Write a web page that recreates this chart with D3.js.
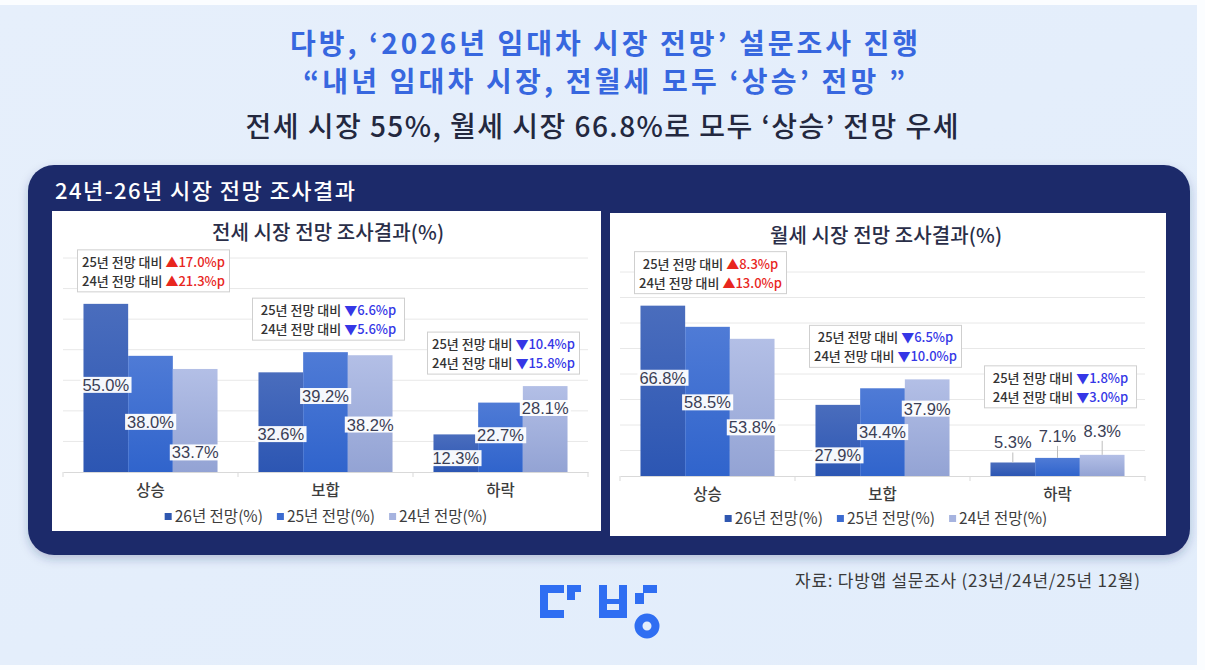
<!DOCTYPE html>
<html>
<head>
<meta charset="utf-8">
<script src="https://cdn.jsdelivr.net/npm/d3@7/dist/d3.min.js"></script>
<style>
  body { margin: 0; background: #fff; }
  svg { display: block; font-family: "Noto Sans CJK KR", "Noto Sans", sans-serif; }
</style>
</head>
<body>
<svg id="chart" width="1205" height="670"></svg>
<script>
// categories and series
const categories = ["상승", "보합", "하락"]
const seriesNames = ["26년 전망(%)", "25년 전망(%)", "24년 전망(%)"]

// 전세 (jeonse) values per series, in category order
const jeonse26 = [55.0, 32.6, 12.3]
const jeonse25 = [38.0, 39.2, 22.7]
const jeonse24 = [33.7, 38.2, 28.1]

// 월세 (wolse) values
const wolse26 = [66.8, 27.9, 5.3]
const wolse25 = [58.5, 34.4, 7.1]
const wolse24 = [53.8, 37.9, 8.3]

// y ticks
const jeonseTicks = [0, 10, 20, 30, 40, 50, 60, 70]
const wolseTicks = [0, 10, 20, 30, 40, 50, 60, 70, 80]

const W = 1205, H = 670
const barColors = [["#4a6dbd", "#2c56b3"], ["#4f7bd6", "#3064cc"], ["#b3bfe6", "#93a3d4"]]
const legendColors = ["#2f57b0", "#3c6bd0", "#a6b3df"]
const upColor = "#e8261e"
const downColor = "#3537e6"
const fmt = d3.format(".1f")

const svg = d3.select("#chart")
const defs = svg.append("defs")

// background
const bg = defs.append("linearGradient").attr("id", "bg").attr("x1", 0).attr("y1", 0).attr("x2", 1).attr("y2", 1)
bg.append("stop").attr("offset", 0).attr("stop-color", "#e6effb")
bg.append("stop").attr("offset", 1).attr("stop-color", "#e2edfb")
svg.append("rect").attr("width", W).attr("height", H).attr("fill", "#fbfdff")
svg.append("rect").attr("x", 0).attr("y", 5).attr("width", 1197).attr("height", 660).attr("fill", "url(#bg)")

barColors.forEach((c, i) => {
  const g = defs.append("linearGradient").attr("id", `bar${i}`).attr("x1", 0).attr("y1", 0).attr("x2", 0).attr("y2", 1)
  g.append("stop").attr("offset", 0).attr("stop-color", c[0])
  g.append("stop").attr("offset", 1).attr("stop-color", c[1])
})

const shadow = defs.append("filter").attr("id", "shadow").attr("x", -0.05).attr("y", -0.05).attr("width", 1.1).attr("height", 1.15)
shadow.append("feDropShadow").attr("dx", 0).attr("dy", 4).attr("stdDeviation", 5).attr("flood-color", "#1f2c6a").attr("flood-opacity", 0.25)

// titles
function headline(text, x, y, size, weight, fill, len) {
  svg.append("text").attr("x", x).attr("y", y).attr("text-anchor", "middle")
    .attr("font-size", size).attr("font-weight", weight).attr("fill", fill)
    .attr("textLength", len).attr("lengthAdjust", "spacing")
    .text(text)
}
headline("다방, ‘2026년 임대차 시장 전망’ 설문조사 진행", 604, 54, 28, 700, "#3767df", 628)
headline("“내년 임대차 시장, 전월세 모두 ‘상승’ 전망 ”", 604, 92, 28, 700, "#3767df", 602)
headline("전세 시장 55%, 월세 시장 66.8%로 모두 ‘상승’ 전망 우세", 602, 137, 28, 500, "#23283f", 713)

// navy panel
svg.append("rect").attr("x", 28).attr("y", 165).attr("width", 1162).attr("height", 390)
  .attr("rx", 26).attr("fill", "#1f2c6b").attr("filter", "url(#shadow)")
svg.append("text").attr("x", 55).attr("y", 199)
  .attr("font-size", 22).attr("font-weight", 500).attr("fill", "#fff")
  .attr("textLength", 300).attr("lengthAdjust", "spacing")
  .text("24년-26년 시장 전망 조사결과")

function drawChart(cfg) {
  const g = svg.append("g")
  g.append("rect").attr("x", cfg.card[0]).attr("y", cfg.card[1])
    .attr("width", cfg.card[2]).attr("height", cfg.card[3]).attr("fill", "#fff")

  g.append("text").attr("x", cfg.titleX).attr("y", cfg.titleY).attr("text-anchor", "middle")
    .attr("font-size", 20).attr("font-weight", 500).attr("fill", "#2a2e48")
    .attr("textLength", 232).attr("lengthAdjust", "spacing").text(cfg.title)

  const x = d3.scaleBand(categories, cfg.xRange).paddingInner(0.234).paddingOuter(0.117)
  const xs = d3.scaleBand(d3.range(3), [0, x.bandwidth()])
  const y = d3.scaleLinear([0, cfg.ticks[cfg.ticks.length - 1]], cfg.yRange)

  // gridlines
  g.append("g").selectAll("line").data(cfg.ticks.slice(1)).join("line")
    .attr("x1", cfg.xRange[0]).attr("x2", cfg.xRange[1])
    .attr("y1", d => y(d)).attr("y2", d => y(d))
    .attr("stroke", "#e8e8e8").attr("stroke-width", 1)

  // category axis
  const ax = g.append("g").attr("transform", `translate(0,${y(0)})`)
    .call(d3.axisBottom(x).tickSize(0).tickPadding(13))
  ax.select(".domain").attr("stroke", "#d9d9d9")
  ax.selectAll(".tick text").attr("font-size", 15.5).attr("font-family", "Noto Sans CJK KR")
    .attr("fill", "#3d3d3d").attr("font-weight", 500)
  const step = x.step()
  ax.append("g").selectAll("line").data(d3.range(4)).join("line")
    .attr("x1", i => cfg.xRange[0] + i * step).attr("x2", i => cfg.xRange[0] + i * step)
    .attr("y1", 0).attr("y2", 5).attr("stroke", "#d9d9d9")

  // bars
  const rows = categories.map((c, ci) => cfg.series.map((s, si) => ({ c, ci, si, v: s[ci] })))
  const groups = g.append("g").selectAll("g").data(rows).join("g")
    .attr("transform", d => `translate(${x(d[0].c)},0)`)
  groups.selectAll("rect").data(d => d).join("rect")
    .attr("x", d => xs(d.si)).attr("width", xs.bandwidth())
    .attr("y", d => y(d.v)).attr("height", d => y(0) - y(d.v))
    .attr("fill", d => `url(#bar${d.si})`)

  // value labels
  rows.flat().forEach(d => {
    const cx = x(d.c) + xs(d.si) + xs.bandwidth() / 2
    const outside = cfg.outside[d.ci]
    const ly = outside ? y(d.v) + cfg.shift[d.ci][d.si] : (y(d.v) + y(0)) / 2 + cfg.shift[d.ci][d.si]
    if (outside) {
      g.append("line").attr("x1", cx).attr("x2", cx).attr("y1", ly + 10).attr("y2", y(d.v))
        .attr("stroke", "#bdbdbd").attr("stroke-width", 1)
    }
    const t = g.append("text").attr("x", cx).attr("y", ly).attr("dy", "0.36em")
      .attr("text-anchor", "middle").attr("font-size", 16.5).attr("fill", "#3a3e55")
      .attr("font-family", "Liberation Sans, Arial, sans-serif")
      .text(fmt(d.v) + "%")
    if (!outside) {
      const b = t.node().getBBox()
      g.insert("rect", () => t.node()).attr("x", b.x - 2).attr("y", b.y + 1)
        .attr("width", b.width + 4).attr("height", b.height - 2).attr("fill", "#fff").attr("opacity", 0.95)
    }
  })

  // comparison boxes
  categories.forEach((c, ci) => {
    const v26 = cfg.series[0][ci]
    const top = y(d3.max(cfg.series, s => s[ci]))
    const bottom = cfg.outside[ci] ? top - 47 : top - 12
    const cx = x(c) + x.bandwidth() / 2 + 3
    const bw = 152, bh = 42
    g.append("rect").attr("x", cx - bw / 2).attr("y", bottom - bh).attr("width", bw).attr("height", bh)
      .attr("fill", "#fff").attr("stroke", "#cfcfcf").attr("stroke-width", 1)
    ;[1, 2].forEach((si, li) => {
      const diff = v26 - cfg.series[si][ci]
      const t = g.append("text").attr("x", cx).attr("y", bottom - bh + 17 + li * 19)
        .attr("text-anchor", "middle").attr("font-size", 13).attr("font-weight", 500)
      t.append("tspan").attr("fill", "#333").text(`${seriesNames[si].slice(0, 3)} 전망 대비 `)
      t.append("tspan").attr("fill", diff >= 0 ? upColor : downColor)
        .text((diff >= 0 ? "▲" : "▼") + fmt(Math.abs(diff)) + "%p")
    })
  })

  // legend
  const leg = g.append("g")
  let lx = 0
  seriesNames.forEach((n, i) => {
    const it = leg.append("g").attr("transform", `translate(${lx},0)`)
    it.append("rect").attr("x", 0).attr("y", -4).attr("width", 7).attr("height", 7).attr("fill", legendColors[i])
    const t = it.append("text").attr("x", 10).attr("y", 0).attr("dy", "0.35em")
      .attr("font-size", 15.5).attr("fill", "#3d3d3d").text(n)
    lx += 10 + t.node().getComputedTextLength() + 14
  })
  leg.attr("transform", `translate(${cfg.legendX - (lx - 14) / 2},${cfg.legendY})`)
}

drawChart({
  card: [52, 211, 549, 320],
  title: "전세 시장 전망 조사결과(%)", titleX: 328, titleY: 240,
  xRange: [63, 588], yRange: [472, 258], ticks: jeonseTicks,
  series: [jeonse26, jeonse25, jeonse24],
  outside: [false, false, false],
  shift: [[-3, 8, 32], [12, -16, 11], [5, -2, -21]],
  legendX: 326, legendY: 517
})

drawChart({
  card: [610, 213, 556, 323],
  title: "월세 시장 전망 조사결과(%)", titleX: 886, titleY: 243,
  xRange: [620, 1145], yRange: [476, 272], ticks: wolseTicks,
  series: [wolse26, wolse25, wolse24],
  outside: [false, false, true],
  shift: [[-13, 1, 20], [15, 0, -19], [-20, -22, -24]],
  legendX: 886, legendY: 519
})

// source
svg.append("text").attr("x", 1140).attr("y", 587).attr("text-anchor", "end")
  .attr("font-size", 17).attr("fill", "#3a3a3a")
  .attr("textLength", 345).attr("lengthAdjust", "spacing")
  .text("자료: 다방앱 설문조사 (23년/24년/25년 12월)")

// logo
const logo = svg.append("g").attr("fill", "#2f6ef2")
logo.append("path").attr("d", "M540,585H564V593H548V610H564V618H540Z")
logo.append("path").attr("d", "M567,585H581V592H575V600H567Z")
logo.append("path").attr("fill-rule", "evenodd")
  .attr("d", "M599,585H607V599H619V585H627V618H599Z M607,604H619V610H607Z")
logo.append("path").attr("d", "M643,585H657V593H644V604H635V593H643Z")
logo.append("circle").attr("cx", 647).attr("cy", 626).attr("r", 8.5).attr("fill", "none")
  .attr("stroke", "#2f6ef2").attr("stroke-width", 8)
</script>
</body>
</html>
